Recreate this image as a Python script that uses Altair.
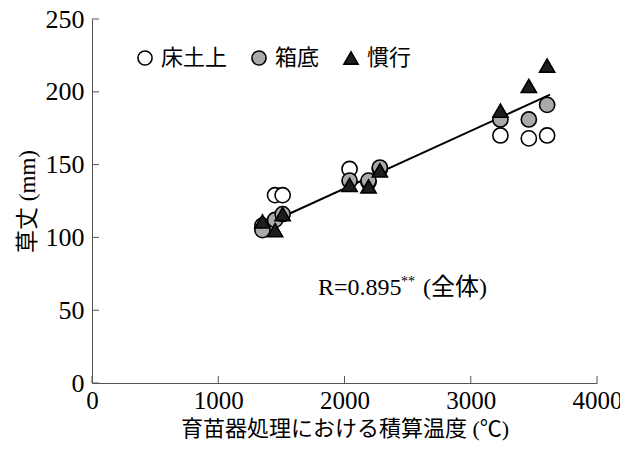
import altair as alt
import pandas as pd

# accumulated temperature (°C) for each sowing lot
temps = [1350, 1450, 1510, 2040, 2190, 2280, 3235, 3460, 3605]
# plant height (mm) per treatment
h_tokojo = [108, 129, 129, 147, 138, 147, 170, 168, 170]   # 床土上
h_hakozoko = [105, 112, 116, 139, 139, 148, 181, 181, 191]  # 箱底
h_kanko = [111, 105, 116, 136, 135, 146, 187, 204, 218]     # 慣行

# fitted line (all data)
fit_x = [1354, 3628]
fit_y = [108, 198]

groups = ["床土上", "箱底", "慣行"]
y_ticks = [0, 50, 100, 150, 200, 250]
x_ticks = [0, 1000, 2000, 3000, 4000]
r_text = ["R=0.895"]
star_text = ["**"]
paren_text = ["(全体)"]

rows = []
for g, hs in zip(groups, [h_tokojo, h_hakozoko, h_kanko]):
    for t, h in zip(temps, hs):
        rows.append({"temp": t, "height": h, "group": g})
df = pd.DataFrame(rows)
fit_df = pd.DataFrame({"temp": fit_x, "height": fit_y})

W, H = 505, 364
SERIF = "Liberation Serif, Noto Sans CJK JP"
CJK = "Noto Sans CJK JP"

xscale = alt.Scale(domain=[0, 4000], nice=False, zero=True)
yscale = alt.Scale(domain=[0, 250], nice=False, zero=True)

xaxis = alt.Axis(values=x_ticks, format="d", ticks=False, grid=False,
                 labelFont="Liberation Serif", labelFontSize=25, labelColor="black",
                 labelPadding=5, labelFlush=False, labelOverlap=False,
                 domainColor="#555", domainWidth=1,
                 title="育苗器処理における積算温度 (℃)", titleFont=SERIF,
                 titleFontSize=22, titleFontWeight="normal", titleColor="black",
                 titlePadding=5)
yaxis = alt.Axis(values=y_ticks, ticks=False, grid=False,
                 labelFont="Liberation Serif", labelFontSize=26, labelColor="black",
                 labelPadding=8, labelFlush=False, labelOverlap=False,
                 domainColor="#555", domainWidth=1,
                 title="草丈 (mm)", titleFont=SERIF, titleFontSize=23,
                 titleFontWeight="normal", titleColor="black", titlePadding=6)

legend = alt.Legend(title=None, orient="none", legendX=42, legendY=28,
                    direction="horizontal", labelFont=CJK, labelFontSize=22,
                    labelColor="black", symbolSize=200,
                    symbolStrokeColor="black", symbolStrokeWidth=1.6,
                    labelOffset=5, columnPadding=20, padding=0)

line = alt.Chart(fit_df).mark_line(color="black", strokeWidth=2).encode(
    x=alt.X("temp:Q", scale=xscale, axis=xaxis),
    y=alt.Y("height:Q", scale=yscale, axis=yaxis),
)

points = alt.Chart(df).mark_point(filled=True, size=230, strokeWidth=1.6, opacity=1).encode(
    x=alt.X("temp:Q", scale=xscale),
    y=alt.Y("height:Q", scale=yscale),
    shape=alt.Shape("group:N", sort=groups,
                    scale=alt.Scale(domain=groups, range=["circle", "circle", "triangle-up"]),
                    legend=legend),
    fill=alt.Fill("group:N", sort=groups,
                  scale=alt.Scale(domain=groups, range=["white", "#aaaaaa", "#1e1e1e"]),
                  legend=legend),
    stroke=alt.Stroke("group:N", sort=groups,
                      scale=alt.Scale(domain=groups, range=["black", "black", "black"]),
                      legend=legend),
)

ytick_df = pd.DataFrame({"v": y_ticks})
xtick_df = pd.DataFrame({"v": x_ticks})
yticks = alt.Chart(ytick_df).mark_rule(color="#555", strokeWidth=1).encode(
    y=alt.Y("v:Q", scale=yscale), x=alt.value(0), x2=alt.value(7))
xticks = alt.Chart(xtick_df).mark_rule(color="#555", strokeWidth=1).encode(
    x=alt.X("v:Q", scale=xscale), y=alt.value(H), y2=alt.value(H - 7))

r_label = alt.Chart(pd.DataFrame({"t": r_text})).mark_text(
    font="Liberation Serif", fontSize=24, align="left", baseline="alphabetic", color="black"
).encode(text="t:N", x=alt.value(226), y=alt.value(276))
star_label = alt.Chart(pd.DataFrame({"t": star_text})).mark_text(
    font="Liberation Serif", fontSize=14, align="left", baseline="alphabetic", color="black"
).encode(text="t:N", x=alt.value(309), y=alt.value(267))
paren_label = alt.Chart(pd.DataFrame({"t": paren_text})).mark_text(
    font=SERIF, fontSize=24, align="left", baseline="alphabetic", color="black"
).encode(text="t:N", x=alt.value(331), y=alt.value(276))

chart = alt.layer(line, yticks, xticks, points, r_label, star_label, paren_label).properties(
    width=W, height=H,
    autosize=alt.AutoSizeParams(type="none"),
    padding={"left": 84, "top": 11, "right": 23, "bottom": 64},
    background="white",
).configure_view(stroke=None)

chart.save("out.html", embed_options={"renderer": "svg", "actions": False})
